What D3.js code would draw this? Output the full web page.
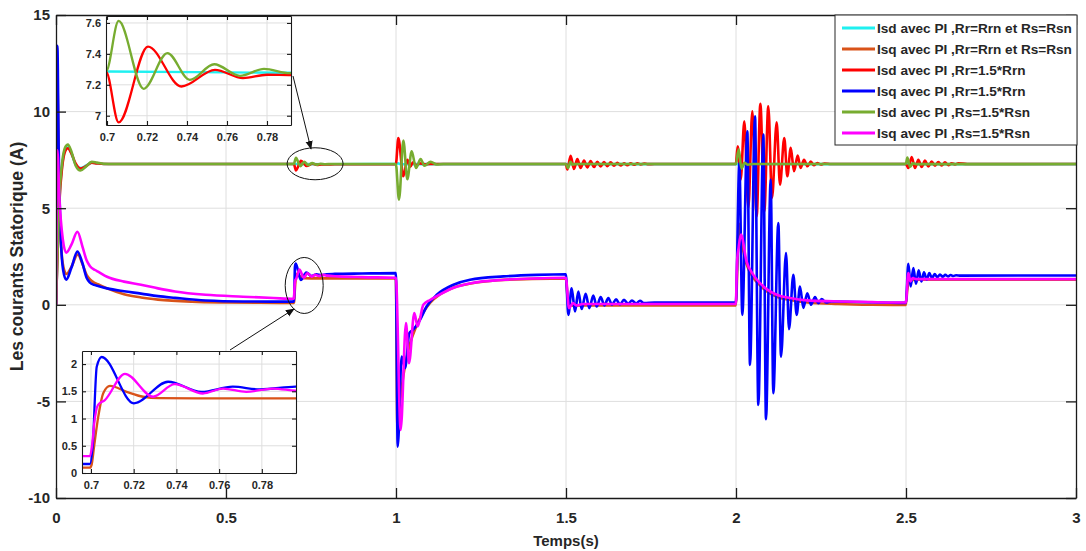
<!DOCTYPE html>
<html>
<head>
<meta charset="utf-8">
<script src="https://cdn.jsdelivr.net/npm/d3@7"></script>
<style>
  html, body { margin: 0; padding: 0; background: #ffffff; }
  svg text { font-family: "Liberation Sans", Arial, Helvetica, sans-serif; font-weight: bold; fill: #262626; }
</style>
</head>
<body>
<svg id="chart" width="1086" height="551"></svg>
<script>
// ---------------------------------------------------------------------------
// Stator current samples: [time (s), current (A)]
// ---------------------------------------------------------------------------
const isdNominal = [
  [0,0],[0.005,3.0],[0.01,5.4],[0.018,7.2],[0.027,8.0],[0.035,8.15],[0.045,7.85],[0.058,7.25],
  [0.072,7.08],[0.088,7.2],[0.105,7.36],[0.12,7.33],[0.14,7.29],[0.17,7.285],[0.7,7.286],
  [0.79,7.278],[1.0,7.28],[1.006,7.33],[1.015,7.27],[1.03,7.28],[3.0,7.28]
];

const isqNominal = [
  [0,0],[0.004,11.5],[0.009,6.0],[0.016,2.8],[0.024,1.8],[0.031,1.6],[0.045,1.95],[0.064,2.6],
  [0.078,2.1],[0.09,1.55],[0.1,1.32],[0.112,1.15],[0.125,1.05],[0.15,0.85],[0.2,0.55],[0.25,0.38],
  [0.3,0.27],[0.4,0.16],[0.5,0.12],[0.6,0.105],[0.6995,0.098],
  [0.7003,0.15],[0.7015,0.5],[0.7034,1.03],[0.7058,1.47],[0.7089,1.6],[0.7167,1.49],[0.7244,1.40],
  [0.732,1.375],[0.75,1.37],[0.9995,1.37],
  [1.004,-6.3],[1.012,-5.0],[1.025,-3.3],[1.04,-2.1],[1.06,-1.1],[1.08,-0.4],[1.1,0.1],[1.13,0.55],
  [1.17,0.9],[1.22,1.1],[1.3,1.27],[1.4,1.34],[1.4995,1.37],
  [1.505,0.35],[1.512,0.02],[1.52,-0.05],[1.54,-0.03],[1.9995,-0.03],
  [2.0088,4.2],[2.016,3.3],[2.031,2.1],[2.051,1.4],[2.071,1.0],[2.09,0.7],[2.12,0.42],[2.16,0.25],
  [2.21,0.12],[2.3,0.04],[2.4,0.0],[2.4995,-0.01],
  [2.504,0.8],[2.51,1.2],[2.52,1.28],[2.54,1.3],[3.0,1.3]
];

const isdRr = [
  [0,0],[0.005,2.9],[0.01,5.3],[0.018,7.1],[0.027,7.95],[0.035,8.1],[0.045,7.85],[0.058,7.3],
  [0.072,7.05],[0.088,7.18],[0.105,7.35],[0.12,7.32],[0.14,7.29],[0.17,7.285],[0.6995,7.285],
  [0.7058,6.957],[0.7205,7.447],[0.7372,7.189],[0.754,7.297],[0.768,7.243],[0.78,7.265],
  [0.792,7.263],[0.82,7.275],[0.9995,7.28],
  [1.0069,8.63],[1.0216,6.65],[1.0333,7.5],[1.042,7.15],[1.05,7.38],[1.06,7.22],[1.07,7.32],
  [1.085,7.27],[1.1,7.29],[1.4995,7.285],
  [1.5039,7.0],[1.5137,7.71],[1.5235,7.03],[1.5333,7.54],[1.5431,7.08],[1.5529,7.47],[1.5627,7.11],
  [1.5725,7.44],[1.5824,7.13],[1.5922,7.40],[1.602,7.16],[1.6118,7.39],[1.6216,7.18],[1.6314,7.37],
  [1.6412,7.20],[1.651,7.35],[1.6608,7.21],[1.6706,7.33],[1.6804,7.23],[1.6902,7.33],[1.7,7.25],
  [1.71,7.32],[1.72,7.27],[1.73,7.31],[1.74,7.28],[1.76,7.285],[1.9995,7.285],
  [2.005,8.2],[2.0138,6.48],[2.0245,9.5],[2.0363,5.01],[2.048,10.02],[2.0608,4.58],[2.0716,10.41],
  [2.0833,4.84],[2.095,10.28],[2.1059,5.53],[2.1196,9.45],[2.1294,6.22],[2.142,8.63],[2.151,6.65],
  [2.161,8.12],[2.1706,6.91],[2.1814,7.72],[2.19,7.08],[2.2,7.51],[2.21,7.17],[2.22,7.41],
  [2.229,7.22],[2.239,7.34],[2.25,7.26],[2.26,7.31],[2.28,7.29],[2.4995,7.29],
  [2.5069,7.08],[2.5167,7.65],[2.5265,7.08],[2.5363,7.51],[2.5461,7.13],[2.5559,7.46],[2.5657,7.16],
  [2.5755,7.42],[2.5853,7.2],[2.5951,7.39],[2.6049,7.21],[2.6147,7.37],[2.6245,7.23],[2.6343,7.33],
  [2.6441,7.27],[2.6539,7.32],[2.68,7.29],[3.0,7.29]
];

const isqRr = [
  [0,0],[0.004,13.4],[0.008,8.0],[0.014,3.5],[0.021,1.8],[0.03,1.3],[0.045,1.9],[0.063,2.75],
  [0.077,2.2],[0.09,1.4],[0.1,1.15],[0.112,1.03],[0.122,0.98],[0.15,0.85],[0.2,0.7],[0.25,0.58],
  [0.3,0.45],[0.35,0.36],[0.44,0.22],[0.55,0.17],[0.64,0.165],[0.6995,0.165],
  [0.7008,0.5],[0.7027,1.95],[0.705,2.13],[0.7201,1.28],[0.7361,1.675],[0.7517,1.49],[0.7664,1.585],
  [0.779,1.535],[0.7957,1.585],[0.82,1.6],[0.9,1.62],[0.9995,1.64],
  [1.005,-7.34],[1.0167,-2.68],[1.0265,-3.28],[1.0392,-1.47],[1.05,-1.3],[1.0706,-0.78],[1.09,-0.09],
  [1.12,0.52],[1.169,1.04],[1.218,1.3],[1.316,1.47],[1.414,1.55],[1.4995,1.58],
  [1.5069,-0.52],[1.5167,0.86],[1.5265,-0.35],[1.5363,0.69],[1.5461,-0.22],[1.5578,0.57],[1.5686,-0.17],
  [1.5804,0.48],[1.5902,-0.09],[1.602,0.4],[1.6127,-0.03],[1.6245,0.35],[1.6353,0.0],[1.6471,0.29],
  [1.6588,0.02],[1.6706,0.26],[1.6824,0.05],[1.6941,0.22],[1.7059,0.07],[1.7176,0.21],[1.7294,0.09],
  [1.76,0.12],[1.9995,0.12],
  [2.0098,7.34],[2.0186,-0.52],[2.0333,8.98],[2.0412,-3.11],[2.0559,9.76],[2.0657,-5.18],[2.0804,8.81],
  [2.0882,-5.92],[2.102,6.48],[2.1098,-4.58],[2.1245,4.23],[2.1324,-2.68],[2.1471,2.68],[2.1559,-1.26],
  [2.1686,1.55],[2.1784,-0.52],[2.1882,0.95],[2.198,-0.16],[2.2098,0.6],[2.2206,0.0],[2.2324,0.4],
  [2.2422,0.08],[2.252,0.3],[2.265,0.12],[2.28,0.17],[2.4995,0.1],
  [2.5069,2.12],[2.5137,0.95],[2.5216,1.9],[2.5294,1.09],[2.5373,1.78],[2.5451,1.21],[2.5529,1.68],
  [2.5608,1.30],[2.5686,1.64],[2.5765,1.38],[2.5843,1.59],[2.5922,1.42],[2.6,1.57],[2.6078,1.45],
  [2.6157,1.55],[2.6235,1.47],[2.6314,1.54],[2.6392,1.49],[2.6471,1.53],[2.66,1.51],[3.0,1.52]
];

const isdRs = [
  [0,0],[0.005,3.1],[0.01,5.6],[0.018,7.35],[0.027,8.15],[0.035,8.3],[0.045,7.95],[0.058,7.2],
  [0.072,6.95],[0.088,7.15],[0.105,7.4],[0.12,7.36],[0.14,7.3],[0.17,7.285],[0.6995,7.286],
  [0.7058,7.613],[0.7183,7.174],[0.7302,7.405],[0.7414,7.232],[0.7536,7.333],[0.7665,7.258],
  [0.7785,7.303],[0.7915,7.275],[0.81,7.287],[0.9995,7.285],
  [1.0088,5.44],[1.0216,8.5],[1.0333,6.5],[1.0461,7.95],[1.0588,7.08],[1.0725,7.55],[1.0833,7.2],
  [1.102,7.4],[1.1196,7.26],[1.14,7.29],[1.4995,7.285],
  [1.506,7.08],[1.513,7.4],[1.52,7.25],[1.53,7.29],[1.9995,7.285],
  [2.008,8.05],[2.016,7.05],[2.025,7.35],[2.035,7.25],[2.05,7.29],[2.4995,7.285],
  [2.504,7.62],[2.512,7.15],[2.52,7.32],[2.53,7.28],[3.0,7.285]
];

const isqRs = [
  [0,0],[0.004,8.0],[0.01,5.5],[0.02,3.4],[0.03,2.7],[0.045,3.1],[0.063,3.78],[0.078,3.0],
  [0.09,2.3],[0.1,2.0],[0.115,1.8],[0.125,1.7],[0.15,1.45],[0.2,1.2],[0.25,1.04],[0.3,0.85],
  [0.35,0.69],[0.44,0.52],[0.55,0.42],[0.64,0.35],[0.6995,0.31],
  [0.7005,0.5],[0.7015,0.9],[0.7033,1.25],[0.7065,1.34],[0.7159,1.82],[0.7291,1.40],[0.7392,1.63],
  [0.7524,1.46],[0.7618,1.55],[0.7727,1.49],[0.7851,1.55],[0.7957,1.51],[0.83,1.47],[0.9,1.43],
  [0.9995,1.4],
  [1.0137,-6.48],[1.0294,-0.95],[1.0382,-3.02],[1.0539,-0.43],[1.0637,-1.12],[1.0804,0.0],[1.1,0.25],
  [1.12,0.45],[1.17,0.88],[1.22,1.12],[1.32,1.3],[1.42,1.37],[1.4995,1.4],
  [1.5088,-0.17],[1.5206,0.09],[1.53,-0.03],[1.55,0.04],[1.9995,0.05],
  [2.003,2.2],[2.008,3.0],[2.0147,3.63],[2.031,2.25],[2.051,1.55],[2.0706,1.12],[2.09,0.81],
  [2.12,0.52],[2.159,0.35],[2.208,0.23],[2.286,0.18],[2.4,0.14],[2.4995,0.12],
  [2.5069,1.64],[2.513,1.21],[2.52,1.38],[2.53,1.33],[3.0,1.33]
];

// Legend labels and line colours, in drawing order
const seriesLabels = [
  "Isd avec PI ,Rr=Rrn et Rs=Rsn",
  "Isq avec PI ,Rr=Rrn et Rs=Rsn",
  "Isd avec PI ,Rr=1.5*Rrn",
  "Isq avec PI ,Rr=1.5*Rrn",
  "Isd avec PI ,Rs=1.5*Rsn",
  "Isq avec PI ,Rs=1.5*Rsn"
];
const seriesColors = ["#1ff0f0", "#d95319", "#ff0000", "#0000ff", "#77ac30", "#ff00ff"];
const seriesData = [isdNominal, isqNominal, isdRr, isqRr, isdRs, isqRs];

// Axis ticks
const xTicks = [0, 0.5, 1, 1.5, 2, 2.5, 3];
const xTickLabels = ["0", "0.5", "1", "1.5", "2", "2.5", "3"];
const yTicks = [-10, -5, 0, 5, 10, 15];
const yTickLabels = ["-10", "-5", "0", "5", "10", "15"];

const zoomXTicks = [0.7, 0.72, 0.74, 0.76, 0.78];
const zoomXTickLabels = ["0.7", "0.72", "0.74", "0.76", "0.78"];
const isdZoomYTicks = [7, 7.2, 7.4, 7.6];
const isdZoomYTickLabels = ["7", "7.2", "7.4", "7.6"];
const isqZoomYTicks = [0, 0.5, 1, 1.5, 2];
const isqZoomYTickLabels = ["0", "0.5", "1", "1.5", "2"];

const xTitle = "Temps(s)";
const yTitle = "Les courants Statorique (A)";

// ---------------------------------------------------------------------------
const svg = d3.select("#chart");
const AXIS = "#1a1a1a";
const GRID = "#dedede";

const M = { left: 56, right: 1076, top: 15, bottom: 498 };
const x = d3.scaleLinear().domain([0, 3]).range([M.left, M.right]);
const y = d3.scaleLinear().domain([-10, 15]).range([M.bottom, M.top]);

const defs = svg.append("defs");

function clipRect(id, x0, y0, x1, y1) {
  defs.append("clipPath").attr("id", id)
    .append("rect").attr("x", x0).attr("y", y0).attr("width", x1 - x0).attr("height", y1 - y0);
}

// Gridlines + series + boxed axes for one set of axes
function drawAxes(g, sx, sy, xt, xtl, yt, ytl, opt) {
  const [x0, x1] = sx.range();
  const [y0, y1] = sy.range(); // y0 bottom, y1 top
  g.append("rect").attr("x", x0).attr("y", y1).attr("width", x1 - x0).attr("height", y0 - y1)
    .attr("fill", "#ffffff");

  const grid = g.append("g").attr("stroke", GRID).attr("stroke-width", 1);
  grid.selectAll("line.gx").data(xt.filter(v => sx(v) > x0 + 1 && sx(v) < x1 - 1)).join("line")
    .attr("x1", d => sx(d)).attr("x2", d => sx(d)).attr("y1", y0).attr("y2", y1);
  grid.selectAll("line.gy").data(yt.filter(v => sy(v) < y0 - 1 && sy(v) > y1 + 1)).join("line")
    .attr("y1", d => sy(d)).attr("y2", d => sy(d)).attr("x1", x0).attr("x2", x1);

  const line = d3.line().x(d => sx(d[0])).y(d => sy(d[1])).curve(d3.curveMonotoneX);
  const lines = g.append("g").attr("clip-path", `url(#${opt.clip})`);
  seriesData.forEach((s, i) => {
    lines.append("path").datum(s)
      .attr("d", line)
      .attr("fill", "none")
      .attr("stroke", seriesColors[i])
      .attr("stroke-width", opt.lw)
      .attr("stroke-linejoin", "round");
  });

  const fmtX = d => xtl[xt.indexOf(d)];
  const fmtY = d => ytl[yt.indexOf(d)];
  const axes = [
    g.append("g").attr("transform", `translate(0,${y0})`)
      .call(d3.axisBottom(sx).tickValues(xt).tickFormat(fmtX).tickSize(-opt.tick).tickSizeOuter(0).tickPadding(opt.padX)),
    g.append("g").attr("transform", `translate(0,${y1})`)
      .call(d3.axisTop(sx).tickValues(xt).tickFormat("").tickSize(-opt.tick).tickSizeOuter(0)),
    g.append("g").attr("transform", `translate(${x0},0)`)
      .call(d3.axisLeft(sy).tickValues(yt).tickFormat(fmtY).tickSize(-opt.tick).tickSizeOuter(0).tickPadding(opt.padY)),
    g.append("g").attr("transform", `translate(${x1},0)`)
      .call(d3.axisRight(sy).tickValues(yt).tickFormat("").tickSize(-opt.tick).tickSizeOuter(0))
  ];
  axes.forEach(a => {
    a.select(".domain").attr("stroke", AXIS).attr("stroke-width", opt.aw);
    a.selectAll(".tick line").attr("stroke", AXIS).attr("stroke-width", opt.aw);
    a.selectAll(".tick text").attr("font-size", opt.fs).attr("font-family", null).attr("fill", "#262626");
  });
}

// Main axes
clipRect("clipMain", M.left, M.top, M.right, M.bottom);
const main = svg.append("g");
drawAxes(main, x, y, xTicks, xTickLabels, yTicks, yTickLabels,
  { clip: "clipMain", lw: 2.6, tick: 10, padX: 14, padY: 6, fs: 15, aw: 1.3 });

// Axis titles
svg.append("text").attr("x", (M.left + M.right) / 2).attr("y", 546)
  .attr("text-anchor", "middle").attr("font-size", 15).text(xTitle);
svg.append("text").attr("transform", `translate(23,${(M.top + M.bottom) / 2}) rotate(-90)`)
  .attr("text-anchor", "middle").attr("font-size", 17.5).text(yTitle);

// Zoom on Isd around t = 0.7 s
const xz1 = d3.scaleLinear().domain([0.6995, 0.792]).range([106, 291]);
const yz1 = d3.scaleLinear().domain([6.94, 7.645]).range([125, 16]);
clipRect("clipZ1", 106, 16, 291, 125);
drawAxes(svg.append("g"), xz1, yz1, zoomXTicks, zoomXTickLabels, isdZoomYTicks, isdZoomYTickLabels,
  { clip: "clipZ1", lw: 2.3, tick: 4, padX: 8, padY: 5, fs: 11, aw: 1.1 });

// Zoom on Isq around t = 0.7 s
const xz2 = d3.scaleLinear().domain([0.6958, 0.796]).range([82, 296]);
const yz2 = d3.scaleLinear().domain([0, 2.24]).range([473, 351]);
clipRect("clipZ2", 82, 351, 296, 473);
drawAxes(svg.append("g"), xz2, yz2, zoomXTicks, zoomXTickLabels, isqZoomYTicks, isqZoomYTickLabels,
  { clip: "clipZ2", lw: 2.3, tick: 4, padX: 8, padY: 5, fs: 11, aw: 1.1 });

// Highlight ellipses and pointers to the zoomed views
defs.append("marker").attr("id", "arrow").attr("viewBox", "0 0 10 10")
  .attr("refX", 9).attr("refY", 5).attr("markerWidth", 9).attr("markerHeight", 9)
  .attr("markerUnits", "userSpaceOnUse").attr("orient", "auto")
  .append("path").attr("d", "M0,1 L10,5 L0,9 Z").attr("fill", "#111");

const notes = svg.append("g").attr("fill", "none").attr("stroke", "#111").attr("stroke-width", 1);
notes.append("ellipse").attr("cx", x(0.762)).attr("cy", y(7.3)).attr("rx", 28).attr("ry", 16);
notes.append("ellipse").attr("cx", x(0.730)).attr("cy", y(1.0)).attr("rx", 19).attr("ry", 28);
notes.append("line").attr("x1", 293).attr("y1", 76).attr("x2", 311).attr("y2", 149)
  .attr("marker-end", "url(#arrow)");
notes.append("line").attr("x1", 230).attr("y1", 350).attr("x2", 294).attr("y2", 309)
  .attr("marker-end", "url(#arrow)");

// Legend
const L = { x: 835, y: 15, w: 242, h: 130, row: 21 };
const leg = svg.append("g");
leg.append("rect").attr("x", L.x).attr("y", L.y).attr("width", L.w).attr("height", L.h)
  .attr("fill", "#ffffff").attr("stroke", "#262626").attr("stroke-width", 1);
seriesLabels.forEach((lab, i) => {
  const cy = L.y + 13 + i * L.row;
  leg.append("line").attr("x1", L.x + 7).attr("x2", L.x + 40).attr("y1", cy).attr("y2", cy)
    .attr("stroke", seriesColors[i]).attr("stroke-width", 3);
  leg.append("text").attr("x", L.x + 42).attr("y", cy).attr("dy", "0.36em")
    .attr("font-size", 13.6).attr("fill", "#000").text(lab);
});
</script>
</body>
</html>
